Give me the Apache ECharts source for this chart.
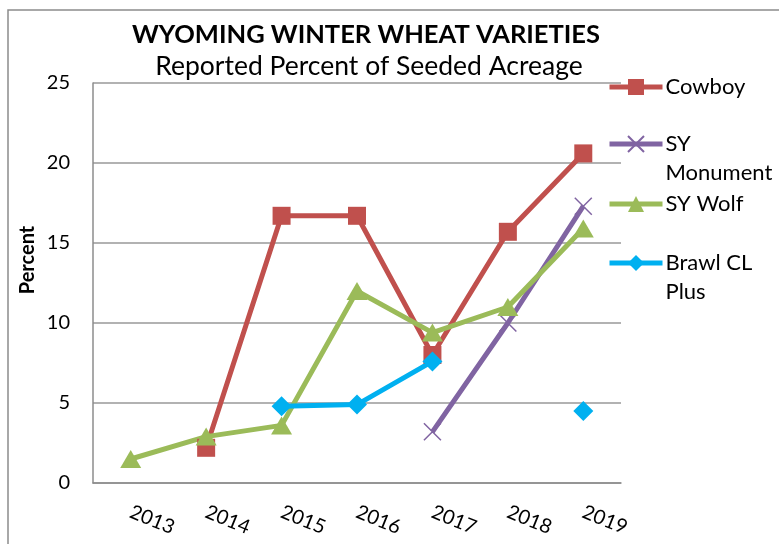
<!DOCTYPE html>
<html>
<head>
<meta charset="utf-8">
<script src="https://cdn.jsdelivr.net/npm/echarts@6/dist/echarts.min.js"></script>
<style>
  html, body { margin: 0; padding: 0; background: #fff; }
  #chart { width: 779px; height: 544px; }
</style>
</head>
<body>
<div id="chart"></div>
<script>
// 年份
const years = ['2013', '2014', '2015', '2016', '2017', '2018', '2019'];
// 各品种播种面积占比 (%)
const cowboy = [null, 2.2, 16.7, 16.7, 8.0, 15.7, 20.6];
const syMonument = [null, null, null, null, 3.2, 10.0, 17.3];
const syWolf = [1.5, 2.9, 3.6, 12.0, 9.4, 11.0, 15.9];
const brawlClPlus = [null, null, 4.8, 4.9, 7.6, null, 4.5];
// y 轴刻度
const yTicks = [0, 5, 10, 15, 20, 25];

const FONT = 'Lato, "Open Sans", sans-serif';
const chart = echarts.init(document.getElementById('chart'));

// 图例 (每项单独定位)
function legendAt(name, top, label) {
  return {
    data: [name],
    orient: 'vertical',
    left: 607,
    top: top,
    padding: 0,
    itemWidth: 53,
    itemHeight: 20,
    lineStyle: { width: 5 },
    formatter: () => label,
    textStyle: { fontFamily: FONT, fontSize: 22, lineHeight: 29, color: '#000', padding: [0, 0, 0, -2] }
  };
}

const option = {
  animation: false,
  graphic: [
    {
      type: 'rect',
      shape: { x: 8, y: 10, width: 900, height: 700 },
      style: { fill: 'none', stroke: '#8c8c8c', lineWidth: 1.5 }
    },
    {
      type: 'text', x: 366, y: 35,
      style: { text: 'WYOMING WINTER WHEAT VARIETIES', font: 'bold 25.5px ' + FONT, fill: '#000', align: 'center', verticalAlign: 'middle' }
    },
    {
      type: 'text', x: 369, y: 66,
      style: { text: 'Reported Percent of Seeded Acreage', font: '26.5px ' + FONT, fill: '#000', align: 'center', verticalAlign: 'middle' }
    },
    {
      type: 'text', x: 28, y: 260, rotation: Math.PI / 2,
      style: { text: 'Percent', font: 'bold 20px ' + FONT, fill: '#000', align: 'center', verticalAlign: 'middle' }
    }
  ],
  legend: [
    legendAt('Cowboy', 72.5, 'Cowboy'),
    legendAt('SY Monument', 100.5, '\nSY\nMonument'),
    legendAt('SY Wolf', 189.5, 'SY Wolf'),
    legendAt('Brawl CL Plus', 219.5, '\nBrawl CL\nPlus')
  ],
  grid: { left: 93, right: 158, top: 83, bottom: 61, outerBoundsMode: 'none' },
  xAxis: {
    type: 'category',
    data: years,
    axisLine: { lineStyle: { color: '#8c8c8c', width: 1.5 } },
    axisTick: { show: false },
    axisLabel: { rotate: -22, margin: 28, fontFamily: FONT, fontSize: 20, color: '#000' }
  },
  yAxis: {
    type: 'value',
    min: yTicks[0],
    max: yTicks[yTicks.length - 1],
    interval: yTicks[1] - yTicks[0],
    axisLine: { show: true, lineStyle: { color: '#8c8c8c', width: 1.5 } },
    axisTick: { show: false },
    axisLabel: { margin: 23, fontFamily: FONT, fontSize: 20, color: '#000' },
    splitLine: { lineStyle: { color: '#999', width: 1.5 } }
  },
  series: [
    {
      name: 'Cowboy', type: 'line', data: cowboy,
      symbol: 'rect', symbolSize: 18,
      lineStyle: { color: '#C0504D', width: 5 },
      itemStyle: { color: '#C0504D' }
    },
    {
      name: 'SY Monument', type: 'line', data: syMonument,
      symbol: 'path://M0,0L10,10M10,0L0,10', symbolSize: 17,
      lineStyle: { color: '#8064A2', width: 5 },
      itemStyle: { color: '#8064A2', borderColor: '#8064A2', borderWidth: 1.5 }
    },
    {
      name: 'SY Wolf', type: 'line', data: syWolf,
      symbol: 'triangle', symbolSize: [21, 18],
      lineStyle: { color: '#9BBB59', width: 5 },
      itemStyle: { color: '#9BBB59' }
    },
    {
      name: 'Brawl CL Plus', type: 'line', data: brawlClPlus,
      symbol: 'diamond', symbolSize: 20,
      lineStyle: { color: '#00B0F0', width: 5 },
      itemStyle: { color: '#00B0F0' }
    }
  ]
};

chart.setOption(option);
</script>
</body>
</html>
